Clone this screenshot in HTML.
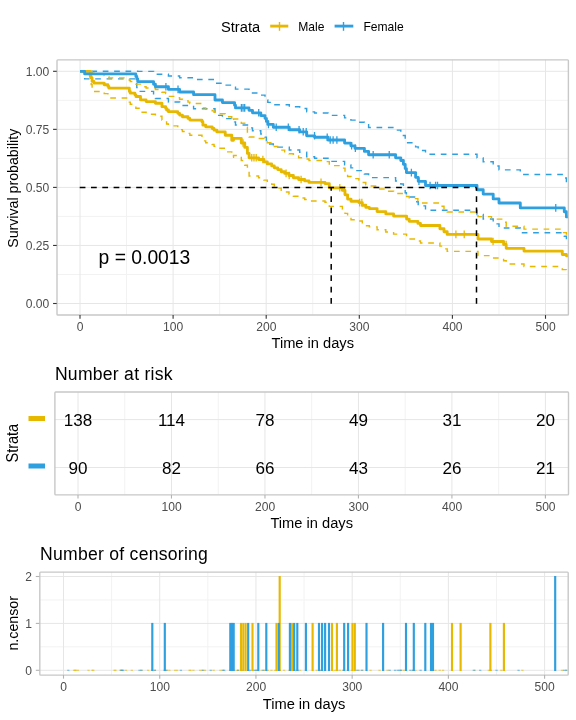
<!DOCTYPE html>
<html><head><meta charset="utf-8"><style>
html,body{margin:0;padding:0;background:#fff;width:576px;height:720px;overflow:hidden}
svg{display:block;font-family:"Liberation Sans", sans-serif;will-change:transform}
</style></head><body>
<svg width="576" height="720" viewBox="0 0 576 720">
<text x="221" y="32" font-size="14.67" fill="#000">Strata</text>
<line x1="270.2" y1="26.1" x2="288.3" y2="26.1" stroke="#E7B800" stroke-width="2.85"/>
<line x1="279.5" y1="22" x2="279.5" y2="30.8" stroke="#E7B800" stroke-width="1.4"/>
<text transform="translate(298.20,30.90) scale(1,1.09)" font-size="12.1" fill="#000">Male</text>
<line x1="334.6" y1="26.1" x2="353.3" y2="26.1" stroke="#2E9FDF" stroke-width="2.85"/>
<line x1="343.5" y1="22" x2="343.5" y2="30.8" stroke="#2E9FDF" stroke-width="1.4"/>
<text transform="translate(363.40,30.90) scale(1,1.09)" font-size="12.1" fill="#000">Female</text>
<rect x="56.72" y="59.69" width="512.05" height="255.42" fill="#fff"/>
<line x1="126.55" y1="59.69" x2="126.55" y2="315.11" stroke="#F2F2F2" stroke-width="1"/>
<line x1="219.65" y1="59.69" x2="219.65" y2="315.11" stroke="#F2F2F2" stroke-width="1"/>
<line x1="312.75" y1="59.69" x2="312.75" y2="315.11" stroke="#F2F2F2" stroke-width="1"/>
<line x1="405.85" y1="59.69" x2="405.85" y2="315.11" stroke="#F2F2F2" stroke-width="1"/>
<line x1="498.95" y1="59.69" x2="498.95" y2="315.11" stroke="#F2F2F2" stroke-width="1"/>
<line x1="56.72" y1="274.48" x2="568.78" y2="274.48" stroke="#F2F2F2" stroke-width="1"/>
<line x1="56.72" y1="216.43" x2="568.78" y2="216.43" stroke="#F2F2F2" stroke-width="1"/>
<line x1="56.72" y1="158.38" x2="568.78" y2="158.38" stroke="#F2F2F2" stroke-width="1"/>
<line x1="56.72" y1="100.33" x2="568.78" y2="100.33" stroke="#F2F2F2" stroke-width="1"/>
<line x1="80.00" y1="59.69" x2="80.00" y2="315.11" stroke="#E6E6E6" stroke-width="1"/>
<line x1="173.10" y1="59.69" x2="173.10" y2="315.11" stroke="#E6E6E6" stroke-width="1"/>
<line x1="266.20" y1="59.69" x2="266.20" y2="315.11" stroke="#E6E6E6" stroke-width="1"/>
<line x1="359.30" y1="59.69" x2="359.30" y2="315.11" stroke="#E6E6E6" stroke-width="1"/>
<line x1="452.40" y1="59.69" x2="452.40" y2="315.11" stroke="#E6E6E6" stroke-width="1"/>
<line x1="545.50" y1="59.69" x2="545.50" y2="315.11" stroke="#E6E6E6" stroke-width="1"/>
<line x1="56.72" y1="303.50" x2="568.78" y2="303.50" stroke="#E6E6E6" stroke-width="1"/>
<line x1="56.72" y1="245.45" x2="568.78" y2="245.45" stroke="#E6E6E6" stroke-width="1"/>
<line x1="56.72" y1="187.40" x2="568.78" y2="187.40" stroke="#E6E6E6" stroke-width="1"/>
<line x1="56.72" y1="129.35" x2="568.78" y2="129.35" stroke="#E6E6E6" stroke-width="1"/>
<line x1="56.72" y1="71.30" x2="568.78" y2="71.30" stroke="#E6E6E6" stroke-width="1"/>
<clipPath id="pc"><rect x="56.72" y="59.69" width="512.05" height="255.42"/></clipPath>
<g clip-path="url(#pc)" fill="none">
<path d="M80.00,71.30H84.66V71.30H135.86V71.30H136.79V71.30H137.72V71.37H153.55V72.78H155.41V74.32H168.44V75.97H179.62V77.72H193.58V79.53H215.00V83.22H222.44V85.16H234.55V87.13H235.48V89.15H249.00V91.00H252.50V92.95H260.80V95.16H265.00V97.33H266.40V99.86H267.80V102.35H273.30V104.70H289.30V106.78H299.70V108.53H306.70V111.87H314.60V113.04H328.00V115.37H344.60V117.91H350.90V120.13H355.00V122.21H364.40V124.78H368.60V127.56H395.60V130.09H400.80V132.31H403.40V135.50H405.20V139.19H406.40V142.70H415.60V146.86H418.20V150.48H425.50V154.31H477.00V157.89H483.20V161.75H493.20V166.07H499.00V169.87H520.30V174.46H564.30V178.04H566.40V183.11H568.90" stroke="#2E9FDF" stroke-width="1.42" stroke-dasharray="5.69 5.69"/>
<path d="M80.00,71.30H84.66V78.86H135.86V83.50H136.79V87.59H137.72V91.40H153.55V95.07H155.41V98.57H168.44V102.01H179.62V105.44H193.58V108.81H215.00V115.41H222.44V118.64H234.55V121.85H235.48V125.00H249.00V127.85H252.50V130.78H260.80V134.03H265.00V137.14H266.40V140.66H267.80V144.03H273.30V147.15H289.30V149.95H299.70V152.30H306.70V156.74H314.60V158.29H328.00V161.41H344.60V164.87H350.90V167.88H355.00V170.64H364.40V174.05H368.60V177.65H395.60V181.08H400.80V184.04H403.40V188.16H405.20V192.75H406.40V196.94H415.60V201.82H418.20V205.91H425.50V210.17H477.00V214.56H483.20V219.07H493.20V223.89H499.00V227.92H520.30V232.68H564.30V236.33H566.40V241.21H568.90" stroke="#2E9FDF" stroke-width="1.42" stroke-dasharray="5.69 5.69"/>
<path d="M80.00,71.30H90.24V71.30H91.17V71.39H92.10V73.33H93.97V74.39H104.21V75.51H107.93V76.65H108.86V77.85H129.34V80.28H130.27V81.52H134.93V82.79H135.86V84.10H140.51V86.74H146.10V88.07H155.41V89.44H161.93V92.17H165.65V93.56H166.58V94.97H168.44V96.37H177.75V97.80H179.62V99.22H182.41V100.66H188.00V102.09H189.86V103.53H201.96V104.98H202.89V107.90H205.69V109.36H212.20V110.84H214.06V112.31H216.86V113.81H225.24V116.78H231.75V121.27H233.50V119.05H241.30V123.28H244.75V127.29H247.40V132.83H249.10V136.97H258.60V138.57H263.90V140.73H267.30V142.72H271.70V144.62H274.30V146.42H277.70V148.14H281.20V150.15H284.70V151.79H289.00V153.81H293.40V155.93H298.60V157.67H304.70V159.02H309.00V160.47H325.00V161.62H329.30V165.63H342.40V168.11H345.00V172.34H347.60V176.54H351.00V178.61H358.90V179.99H362.30V182.55H365.80V184.74H369.30V185.94H377.10V188.93H385.80V191.23H393.60V193.44H406.60V196.44H409.20V198.66H417.90V200.78H420.50V202.92H439.90V206.18H444.00V209.17H447.20V211.95H478.00V216.59H491.50V219.14H503.60V222.22H506.20V226.20H524.00V229.14H562.30V232.66H566.40V234.06H568.90" stroke="#E7B800" stroke-width="1.42" stroke-dasharray="5.69 5.69"/>
<path d="M80.00,71.30H90.24V81.97H91.17V84.49H92.10V89.19H93.97V91.42H104.21V93.65H107.93V95.80H108.86V97.95H129.34V102.16H130.27V104.21H134.93V106.24H135.86V108.28H140.51V112.28H146.10V114.24H155.41V116.22H161.93V120.12H165.65V122.03H166.58V123.96H168.44V125.85H177.75V127.77H179.62V129.65H182.41V131.55H188.00V133.41H189.86V135.27H201.96V137.16H202.89V140.88H205.69V142.71H212.20V144.57H214.06V146.39H216.86V148.23H225.24V151.89H231.75V157.32H233.50V155.54H241.30V160.56H244.75V165.22H247.40V171.49H249.10V176.03H258.60V177.78H263.90V180.14H267.30V182.29H271.70V184.33H274.30V186.27H277.70V188.09H281.20V190.22H284.70V191.93H289.00V194.05H293.40V196.26H298.60V198.06H304.70V199.47H309.00V200.97H325.00V202.18H329.30V206.40H342.40V209.02H345.00V213.41H347.60V217.65H351.00V219.70H358.90V221.07H362.30V223.61H365.80V225.74H369.30V226.89H377.10V229.78H385.80V231.99H393.60V234.09H406.60V236.97H409.20V239.05H417.90V241.04H420.50V243.01H439.90V246.09H444.00V248.85H447.20V251.35H478.00V255.63H491.50V257.93H503.60V260.67H506.20V264.08H524.00V266.57H562.30V269.60H566.40V270.74H568.90" stroke="#E7B800" stroke-width="1.42" stroke-dasharray="5.69 5.69"/>
<path d="M80.00,71.30H90.24V76.34H91.17V78.03H92.10V81.40H93.97V83.07H104.21V84.77H107.93V86.44H108.86V88.13H129.34V91.50H130.27V93.17H134.93V94.85H135.86V96.54H140.51V99.91H146.10V101.58H155.41V103.27H161.93V106.64H165.65V108.31H166.58V110.01H168.44V111.68H177.75V113.37H179.62V115.05H182.41V116.74H188.00V118.41H189.86V120.09H201.96V121.78H202.89V125.15H205.69V126.82H212.20V128.51H214.06V130.19H216.86V131.88H225.24V135.25H231.75V140.29H233.50V138.30H241.30V143.00H244.75V147.40H247.40V153.40H249.10V157.80H258.60V159.50H263.90V161.80H267.30V163.90H271.70V165.90H274.30V167.80H277.70V169.60H281.20V171.70H284.70V173.40H289.00V175.50H293.40V177.70H298.60V179.50H304.70V180.90H309.00V182.40H325.00V183.60H329.30V187.80H342.40V190.40H345.00V194.80H347.60V199.10H351.00V201.20H358.90V202.60H362.30V205.20H365.80V207.40H369.30V208.60H377.10V211.60H385.80V213.90H393.60V216.10H406.60V219.10H409.20V221.30H417.90V223.40H420.50V225.50H439.90V228.75H444.00V231.70H447.20V234.40H478.00V239.00H491.50V241.50H503.60V244.50H506.20V248.30H524.00V251.10H562.30V254.50H566.40V255.80H568.90" stroke="#E7B800" stroke-width="2.85" stroke-linejoin="round"/>
<path d="M80.00,71.30H84.66V73.88H135.86V76.45H136.79V79.03H137.72V81.61H153.55V84.21H155.41V86.79H168.44V89.39H179.62V92.04H193.58V94.68H215.00V99.95H222.44V102.60H234.55V105.25H235.48V107.89H249.00V110.30H252.50V112.80H260.80V115.60H265.00V118.30H266.40V121.40H267.80V124.40H273.30V127.20H289.30V129.70H299.70V131.80H306.70V135.80H314.60V137.20H328.00V140.00H344.60V143.10H350.90V145.80H355.00V148.30H364.40V151.40H368.60V154.70H395.60V157.80H400.80V160.50H403.40V164.30H405.20V168.60H406.40V172.60H415.60V177.30H418.20V181.30H425.50V185.50H477.00V189.70H483.20V194.10H493.20V198.90H499.00V203.00H520.30V207.90H564.30V211.70H566.40V216.90H568.90" stroke="#2E9FDF" stroke-width="2.85" stroke-linejoin="round"/>
<line x1="243.04" y1="139.20" x2="243.04" y2="146.80" stroke="#E7B800" stroke-width="1.3"/><line x1="251.74" y1="154.00" x2="251.74" y2="161.60" stroke="#E7B800" stroke-width="1.3"/><line x1="253.97" y1="154.00" x2="253.97" y2="161.60" stroke="#E7B800" stroke-width="1.3"/><line x1="256.20" y1="154.00" x2="256.20" y2="161.60" stroke="#E7B800" stroke-width="1.3"/><line x1="262.87" y1="155.70" x2="262.87" y2="163.30" stroke="#E7B800" stroke-width="1.3"/><line x1="286.09" y1="169.60" x2="286.09" y2="177.20" stroke="#E7B800" stroke-width="1.3"/><line x1="289.19" y1="171.70" x2="289.19" y2="179.30" stroke="#E7B800" stroke-width="1.3"/><line x1="301.09" y1="175.70" x2="301.09" y2="183.30" stroke="#E7B800" stroke-width="1.3"/><line x1="321.02" y1="178.60" x2="321.02" y2="186.20" stroke="#E7B800" stroke-width="1.3"/><line x1="339.79" y1="184.00" x2="339.79" y2="191.60" stroke="#E7B800" stroke-width="1.3"/><line x1="344.53" y1="186.60" x2="344.53" y2="194.20" stroke="#E7B800" stroke-width="1.3"/><line x1="359.63" y1="198.80" x2="359.63" y2="206.40" stroke="#E7B800" stroke-width="1.3"/><line x1="361.85" y1="198.80" x2="361.85" y2="206.40" stroke="#E7B800" stroke-width="1.3"/><line x1="455.90" y1="230.60" x2="455.90" y2="238.20" stroke="#E7B800" stroke-width="1.3"/><line x1="464.22" y1="230.60" x2="464.22" y2="238.20" stroke="#E7B800" stroke-width="1.3"/><line x1="493.06" y1="237.70" x2="493.06" y2="245.30" stroke="#E7B800" stroke-width="1.3"/><line x1="506.12" y1="240.70" x2="506.12" y2="248.30" stroke="#E7B800" stroke-width="1.3"/>
<line x1="165.92" y1="82.99" x2="165.92" y2="90.59" stroke="#2E9FDF" stroke-width="1.3"/><line x1="178.02" y1="85.59" x2="178.02" y2="93.19" stroke="#2E9FDF" stroke-width="1.3"/><line x1="241.39" y1="104.09" x2="241.39" y2="111.69" stroke="#2E9FDF" stroke-width="1.3"/><line x1="243.04" y1="104.09" x2="243.04" y2="111.69" stroke="#2E9FDF" stroke-width="1.3"/><line x1="244.68" y1="104.09" x2="244.68" y2="111.69" stroke="#2E9FDF" stroke-width="1.3"/><line x1="258.71" y1="109.00" x2="258.71" y2="116.60" stroke="#2E9FDF" stroke-width="1.3"/><line x1="268.48" y1="120.60" x2="268.48" y2="128.20" stroke="#2E9FDF" stroke-width="1.3"/><line x1="276.22" y1="123.40" x2="276.22" y2="131.00" stroke="#2E9FDF" stroke-width="1.3"/><line x1="288.32" y1="123.40" x2="288.32" y2="131.00" stroke="#2E9FDF" stroke-width="1.3"/><line x1="299.06" y1="125.90" x2="299.06" y2="133.50" stroke="#2E9FDF" stroke-width="1.3"/><line x1="303.22" y1="128.00" x2="303.22" y2="135.60" stroke="#2E9FDF" stroke-width="1.3"/><line x1="306.22" y1="128.00" x2="306.22" y2="135.60" stroke="#2E9FDF" stroke-width="1.3"/><line x1="314.54" y1="132.00" x2="314.54" y2="139.60" stroke="#2E9FDF" stroke-width="1.3"/><line x1="327.22" y1="133.40" x2="327.22" y2="141.00" stroke="#2E9FDF" stroke-width="1.3"/><line x1="330.21" y1="136.20" x2="330.21" y2="143.80" stroke="#2E9FDF" stroke-width="1.3"/><line x1="333.12" y1="136.20" x2="333.12" y2="143.80" stroke="#2E9FDF" stroke-width="1.3"/><line x1="336.89" y1="136.20" x2="336.89" y2="143.80" stroke="#2E9FDF" stroke-width="1.3"/><line x1="351.60" y1="142.00" x2="351.60" y2="149.60" stroke="#2E9FDF" stroke-width="1.3"/><line x1="355.37" y1="144.50" x2="355.37" y2="152.10" stroke="#2E9FDF" stroke-width="1.3"/><line x1="373.18" y1="150.90" x2="373.18" y2="158.50" stroke="#2E9FDF" stroke-width="1.3"/><line x1="389.24" y1="150.90" x2="389.24" y2="158.50" stroke="#2E9FDF" stroke-width="1.3"/><line x1="411.39" y1="168.80" x2="411.39" y2="176.40" stroke="#2E9FDF" stroke-width="1.3"/><line x1="418.94" y1="177.50" x2="418.94" y2="185.10" stroke="#2E9FDF" stroke-width="1.3"/><line x1="430.07" y1="181.70" x2="430.07" y2="189.30" stroke="#2E9FDF" stroke-width="1.3"/><line x1="435.58" y1="181.70" x2="435.58" y2="189.30" stroke="#2E9FDF" stroke-width="1.3"/><line x1="437.52" y1="181.70" x2="437.52" y2="189.30" stroke="#2E9FDF" stroke-width="1.3"/><line x1="555.76" y1="204.10" x2="555.76" y2="211.70" stroke="#2E9FDF" stroke-width="1.3"/>
<path d="M79.7,187.5H476.5" stroke="#000" stroke-width="1.5" stroke-dasharray="5.75 5.55"/>
<path d="M331.2,303.7V187.5" stroke="#000" stroke-width="1.5" stroke-dasharray="5.75 5.55"/>
<path d="M476.5,303.7V187.5" stroke="#000" stroke-width="1.5" stroke-dasharray="5.75 5.55"/>
</g>
<rect x="57.00" y="59.90" width="511.40" height="255.10" fill="none" stroke="#C8C8C8" stroke-width="1.4" rx="0.8"/>
<text transform="translate(98.60,263.90)" font-size="19.3" fill="#000">p = 0.0013</text>
<line x1="53.07" y1="303.50" x2="56.72" y2="303.50" stroke="#333" stroke-width="1.1"/>
<text transform="translate(49.32,308.10) scale(1,1.09)" font-size="12.1" fill="#4D4D4D" text-anchor="end">0.00</text>
<line x1="53.07" y1="245.45" x2="56.72" y2="245.45" stroke="#333" stroke-width="1.1"/>
<text transform="translate(49.32,250.05) scale(1,1.09)" font-size="12.1" fill="#4D4D4D" text-anchor="end">0.25</text>
<line x1="53.07" y1="187.40" x2="56.72" y2="187.40" stroke="#333" stroke-width="1.1"/>
<text transform="translate(49.32,192.00) scale(1,1.09)" font-size="12.1" fill="#4D4D4D" text-anchor="end">0.50</text>
<line x1="53.07" y1="129.35" x2="56.72" y2="129.35" stroke="#333" stroke-width="1.1"/>
<text transform="translate(49.32,133.95) scale(1,1.09)" font-size="12.1" fill="#4D4D4D" text-anchor="end">0.75</text>
<line x1="53.07" y1="71.30" x2="56.72" y2="71.30" stroke="#333" stroke-width="1.1"/>
<text transform="translate(49.32,75.90) scale(1,1.09)" font-size="12.1" fill="#4D4D4D" text-anchor="end">1.00</text>
<line x1="80.00" y1="315.11" x2="80.00" y2="318.76" stroke="#333" stroke-width="1.1"/>
<text transform="translate(80.10,330.81) scale(1,1.09)" font-size="12.1" fill="#4D4D4D" text-anchor="middle">0</text>
<line x1="173.10" y1="315.11" x2="173.10" y2="318.76" stroke="#333" stroke-width="1.1"/>
<text transform="translate(173.20,330.81) scale(1,1.09)" font-size="12.1" fill="#4D4D4D" text-anchor="middle">100</text>
<line x1="266.20" y1="315.11" x2="266.20" y2="318.76" stroke="#333" stroke-width="1.1"/>
<text transform="translate(266.30,330.81) scale(1,1.09)" font-size="12.1" fill="#4D4D4D" text-anchor="middle">200</text>
<line x1="359.30" y1="315.11" x2="359.30" y2="318.76" stroke="#333" stroke-width="1.1"/>
<text transform="translate(359.40,330.81) scale(1,1.09)" font-size="12.1" fill="#4D4D4D" text-anchor="middle">300</text>
<line x1="452.40" y1="315.11" x2="452.40" y2="318.76" stroke="#333" stroke-width="1.1"/>
<text transform="translate(452.50,330.81) scale(1,1.09)" font-size="12.1" fill="#4D4D4D" text-anchor="middle">400</text>
<line x1="545.50" y1="315.11" x2="545.50" y2="318.76" stroke="#333" stroke-width="1.1"/>
<text transform="translate(545.60,330.81) scale(1,1.09)" font-size="12.1" fill="#4D4D4D" text-anchor="middle">500</text>
<text x="312.75" y="347.8" font-size="14.67" fill="#000" text-anchor="middle">Time in days</text>
<text transform="translate(18.4,188.30) rotate(-90) scale(1,1.08)" font-size="14.2" fill="#000" text-anchor="middle">Survival probability</text>
<text x="54.9" y="380" font-size="17.6" letter-spacing="0.25" fill="#000">Number at risk</text>
<line x1="124.74" y1="392.00" x2="124.74" y2="494.90" stroke="#F2F2F2" stroke-width="1"/>
<line x1="218.22" y1="392.00" x2="218.22" y2="494.90" stroke="#F2F2F2" stroke-width="1"/>
<line x1="311.70" y1="392.00" x2="311.70" y2="494.90" stroke="#F2F2F2" stroke-width="1"/>
<line x1="405.18" y1="392.00" x2="405.18" y2="494.90" stroke="#F2F2F2" stroke-width="1"/>
<line x1="498.66" y1="392.00" x2="498.66" y2="494.90" stroke="#F2F2F2" stroke-width="1"/>
<line x1="78.00" y1="392.00" x2="78.00" y2="494.90" stroke="#E6E6E6" stroke-width="1"/>
<line x1="171.48" y1="392.00" x2="171.48" y2="494.90" stroke="#E6E6E6" stroke-width="1"/>
<line x1="264.96" y1="392.00" x2="264.96" y2="494.90" stroke="#E6E6E6" stroke-width="1"/>
<line x1="358.44" y1="392.00" x2="358.44" y2="494.90" stroke="#E6E6E6" stroke-width="1"/>
<line x1="451.92" y1="392.00" x2="451.92" y2="494.90" stroke="#E6E6E6" stroke-width="1"/>
<line x1="545.40" y1="392.00" x2="545.40" y2="494.90" stroke="#E6E6E6" stroke-width="1"/>
<line x1="54.63" y1="419.6" x2="568.77" y2="419.6" stroke="#E6E6E6" stroke-width="1"/>
<line x1="54.63" y1="467.5" x2="568.77" y2="467.5" stroke="#E6E6E6" stroke-width="1"/>
<rect x="54.90" y="392.00" width="513.60" height="102.90" fill="none" stroke="#C8C8C8" stroke-width="1.4" rx="0.8"/>
<text x="78.00" y="425.8" font-size="17.07" fill="#000" text-anchor="middle">138</text>
<text x="171.48" y="425.8" font-size="17.07" fill="#000" text-anchor="middle">114</text>
<text x="264.96" y="425.8" font-size="17.07" fill="#000" text-anchor="middle">78</text>
<text x="358.44" y="425.8" font-size="17.07" fill="#000" text-anchor="middle">49</text>
<text x="451.92" y="425.8" font-size="17.07" fill="#000" text-anchor="middle">31</text>
<text x="545.40" y="425.8" font-size="17.07" fill="#000" text-anchor="middle">20</text>
<text x="78.00" y="474.0" font-size="17.07" fill="#000" text-anchor="middle">90</text>
<text x="171.48" y="474.0" font-size="17.07" fill="#000" text-anchor="middle">82</text>
<text x="264.96" y="474.0" font-size="17.07" fill="#000" text-anchor="middle">66</text>
<text x="358.44" y="474.0" font-size="17.07" fill="#000" text-anchor="middle">43</text>
<text x="451.92" y="474.0" font-size="17.07" fill="#000" text-anchor="middle">26</text>
<text x="545.40" y="474.0" font-size="17.07" fill="#000" text-anchor="middle">21</text>
<rect x="28.5" y="416" width="16.5" height="5" fill="#E7B800"/>
<rect x="28.5" y="463.5" width="16.5" height="5" fill="#2E9FDF"/>
<line x1="78.00" y1="494.90" x2="78.00" y2="498.55" stroke="#B3B3B3" stroke-width="1.1"/>
<text transform="translate(78.10,511.00) scale(1,1.09)" font-size="12.1" fill="#4D4D4D" text-anchor="middle">0</text>
<line x1="171.48" y1="494.90" x2="171.48" y2="498.55" stroke="#B3B3B3" stroke-width="1.1"/>
<text transform="translate(171.58,511.00) scale(1,1.09)" font-size="12.1" fill="#4D4D4D" text-anchor="middle">100</text>
<line x1="264.96" y1="494.90" x2="264.96" y2="498.55" stroke="#B3B3B3" stroke-width="1.1"/>
<text transform="translate(265.06,511.00) scale(1,1.09)" font-size="12.1" fill="#4D4D4D" text-anchor="middle">200</text>
<line x1="358.44" y1="494.90" x2="358.44" y2="498.55" stroke="#B3B3B3" stroke-width="1.1"/>
<text transform="translate(358.54,511.00) scale(1,1.09)" font-size="12.1" fill="#4D4D4D" text-anchor="middle">300</text>
<line x1="451.92" y1="494.90" x2="451.92" y2="498.55" stroke="#B3B3B3" stroke-width="1.1"/>
<text transform="translate(452.02,511.00) scale(1,1.09)" font-size="12.1" fill="#4D4D4D" text-anchor="middle">400</text>
<line x1="545.40" y1="494.90" x2="545.40" y2="498.55" stroke="#B3B3B3" stroke-width="1.1"/>
<text transform="translate(545.50,511.00) scale(1,1.09)" font-size="12.1" fill="#4D4D4D" text-anchor="middle">500</text>
<text x="311.70" y="528.3" font-size="14.67" fill="#000" text-anchor="middle">Time in days</text>
<text transform="translate(18.3,443.2) rotate(-90) scale(1,1.1)" font-size="14.5" fill="#000" text-anchor="middle">Strata</text>
<text x="40.1" y="560.25" font-size="17.6" letter-spacing="0.25" fill="#000">Number of censoring</text>
<line x1="111.61" y1="571.81" x2="111.61" y2="674.99" stroke="#F2F2F2" stroke-width="1"/>
<line x1="207.83" y1="571.81" x2="207.83" y2="674.99" stroke="#F2F2F2" stroke-width="1"/>
<line x1="304.05" y1="571.81" x2="304.05" y2="674.99" stroke="#F2F2F2" stroke-width="1"/>
<line x1="400.27" y1="571.81" x2="400.27" y2="674.99" stroke="#F2F2F2" stroke-width="1"/>
<line x1="496.49" y1="571.81" x2="496.49" y2="674.99" stroke="#F2F2F2" stroke-width="1"/>
<line x1="39.45" y1="646.85" x2="568.65" y2="646.85" stroke="#F2F2F2" stroke-width="1"/>
<line x1="39.45" y1="599.95" x2="568.65" y2="599.95" stroke="#F2F2F2" stroke-width="1"/>
<line x1="63.50" y1="571.81" x2="63.50" y2="674.99" stroke="#E6E6E6" stroke-width="1"/>
<line x1="159.72" y1="571.81" x2="159.72" y2="674.99" stroke="#E6E6E6" stroke-width="1"/>
<line x1="255.94" y1="571.81" x2="255.94" y2="674.99" stroke="#E6E6E6" stroke-width="1"/>
<line x1="352.16" y1="571.81" x2="352.16" y2="674.99" stroke="#E6E6E6" stroke-width="1"/>
<line x1="448.38" y1="571.81" x2="448.38" y2="674.99" stroke="#E6E6E6" stroke-width="1"/>
<line x1="544.60" y1="571.81" x2="544.60" y2="674.99" stroke="#E6E6E6" stroke-width="1"/>
<line x1="39.45" y1="670.30" x2="568.65" y2="670.30" stroke="#E6E6E6" stroke-width="1"/>
<line x1="39.45" y1="623.40" x2="568.65" y2="623.40" stroke="#E6E6E6" stroke-width="1"/>
<line x1="39.45" y1="576.50" x2="568.65" y2="576.50" stroke="#E6E6E6" stroke-width="1"/>
<rect x="72.93" y="669.70" width="2.3" height="1.2" fill="#E7B800" opacity="0.6"/>
<rect x="73.90" y="669.70" width="2.3" height="1.2" fill="#E7B800" opacity="0.6"/>
<rect x="74.86" y="669.70" width="2.3" height="1.2" fill="#E7B800" opacity="0.6"/>
<rect x="76.78" y="669.70" width="2.3" height="1.2" fill="#E7B800" opacity="0.6"/>
<rect x="87.37" y="669.70" width="2.3" height="1.2" fill="#E7B800" opacity="0.6"/>
<rect x="91.22" y="669.70" width="2.3" height="1.2" fill="#E7B800" opacity="0.6"/>
<rect x="92.18" y="669.70" width="2.3" height="1.2" fill="#E7B800" opacity="0.6"/>
<rect x="113.35" y="669.70" width="2.3" height="1.2" fill="#E7B800" opacity="0.6"/>
<rect x="114.31" y="669.70" width="2.3" height="1.2" fill="#E7B800" opacity="0.6"/>
<rect x="119.12" y="669.70" width="2.3" height="1.2" fill="#E7B800" opacity="0.6"/>
<rect x="120.08" y="669.70" width="2.3" height="1.2" fill="#E7B800" opacity="0.6"/>
<rect x="124.89" y="669.70" width="2.3" height="1.2" fill="#E7B800" opacity="0.6"/>
<rect x="130.67" y="669.70" width="2.3" height="1.2" fill="#E7B800" opacity="0.6"/>
<rect x="140.29" y="669.70" width="2.3" height="1.2" fill="#E7B800" opacity="0.6"/>
<rect x="147.02" y="669.70" width="2.3" height="1.2" fill="#E7B800" opacity="0.6"/>
<rect x="150.87" y="669.70" width="2.3" height="1.2" fill="#E7B800" opacity="0.6"/>
<rect x="151.83" y="669.70" width="2.3" height="1.2" fill="#E7B800" opacity="0.6"/>
<rect x="153.76" y="669.70" width="2.3" height="1.2" fill="#E7B800" opacity="0.6"/>
<rect x="163.38" y="669.70" width="2.3" height="1.2" fill="#E7B800" opacity="0.6"/>
<rect x="165.31" y="669.70" width="2.3" height="1.2" fill="#E7B800" opacity="0.6"/>
<rect x="168.19" y="669.70" width="2.3" height="1.2" fill="#E7B800" opacity="0.6"/>
<rect x="173.97" y="669.70" width="2.3" height="1.2" fill="#E7B800" opacity="0.6"/>
<rect x="175.89" y="669.70" width="2.3" height="1.2" fill="#E7B800" opacity="0.6"/>
<rect x="188.40" y="669.70" width="2.3" height="1.2" fill="#E7B800" opacity="0.6"/>
<rect x="189.36" y="669.70" width="2.3" height="1.2" fill="#E7B800" opacity="0.6"/>
<rect x="192.25" y="669.70" width="2.3" height="1.2" fill="#E7B800" opacity="0.6"/>
<rect x="198.98" y="669.70" width="2.3" height="1.2" fill="#E7B800" opacity="0.6"/>
<rect x="200.91" y="669.70" width="2.3" height="1.2" fill="#E7B800" opacity="0.6"/>
<rect x="203.79" y="669.70" width="2.3" height="1.2" fill="#E7B800" opacity="0.6"/>
<rect x="212.45" y="669.70" width="2.3" height="1.2" fill="#E7B800" opacity="0.6"/>
<rect x="219.19" y="669.70" width="2.3" height="1.2" fill="#E7B800" opacity="0.6"/>
<rect x="220.99" y="669.70" width="2.3" height="1.2" fill="#E7B800" opacity="0.6"/>
<rect x="229.06" y="669.70" width="2.3" height="1.2" fill="#E7B800" opacity="0.6"/>
<rect x="232.62" y="669.70" width="2.3" height="1.2" fill="#E7B800" opacity="0.6"/>
<rect x="235.36" y="669.70" width="2.3" height="1.2" fill="#E7B800" opacity="0.6"/>
<rect x="237.12" y="669.70" width="2.3" height="1.2" fill="#E7B800" opacity="0.6"/>
<rect x="246.94" y="669.70" width="2.3" height="1.2" fill="#E7B800" opacity="0.6"/>
<rect x="252.41" y="669.70" width="2.3" height="1.2" fill="#E7B800" opacity="0.6"/>
<rect x="255.93" y="669.70" width="2.3" height="1.2" fill="#E7B800" opacity="0.6"/>
<rect x="260.47" y="669.70" width="2.3" height="1.2" fill="#E7B800" opacity="0.6"/>
<rect x="263.16" y="669.70" width="2.3" height="1.2" fill="#E7B800" opacity="0.6"/>
<rect x="266.68" y="669.70" width="2.3" height="1.2" fill="#E7B800" opacity="0.6"/>
<rect x="270.29" y="669.70" width="2.3" height="1.2" fill="#E7B800" opacity="0.6"/>
<rect x="273.91" y="669.70" width="2.3" height="1.2" fill="#E7B800" opacity="0.6"/>
<rect x="278.35" y="669.70" width="2.3" height="1.2" fill="#E7B800" opacity="0.6"/>
<rect x="282.90" y="669.70" width="2.3" height="1.2" fill="#E7B800" opacity="0.6"/>
<rect x="288.28" y="669.70" width="2.3" height="1.2" fill="#E7B800" opacity="0.6"/>
<rect x="294.58" y="669.70" width="2.3" height="1.2" fill="#E7B800" opacity="0.6"/>
<rect x="299.02" y="669.70" width="2.3" height="1.2" fill="#E7B800" opacity="0.6"/>
<rect x="315.56" y="669.70" width="2.3" height="1.2" fill="#E7B800" opacity="0.6"/>
<rect x="320.00" y="669.70" width="2.3" height="1.2" fill="#E7B800" opacity="0.6"/>
<rect x="333.54" y="669.70" width="2.3" height="1.2" fill="#E7B800" opacity="0.6"/>
<rect x="336.23" y="669.70" width="2.3" height="1.2" fill="#E7B800" opacity="0.6"/>
<rect x="338.92" y="669.70" width="2.3" height="1.2" fill="#E7B800" opacity="0.6"/>
<rect x="342.43" y="669.70" width="2.3" height="1.2" fill="#E7B800" opacity="0.6"/>
<rect x="350.60" y="669.70" width="2.3" height="1.2" fill="#E7B800" opacity="0.6"/>
<rect x="354.11" y="669.70" width="2.3" height="1.2" fill="#E7B800" opacity="0.6"/>
<rect x="357.73" y="669.70" width="2.3" height="1.2" fill="#E7B800" opacity="0.6"/>
<rect x="361.35" y="669.70" width="2.3" height="1.2" fill="#E7B800" opacity="0.6"/>
<rect x="369.41" y="669.70" width="2.3" height="1.2" fill="#E7B800" opacity="0.6"/>
<rect x="378.40" y="669.70" width="2.3" height="1.2" fill="#E7B800" opacity="0.6"/>
<rect x="386.46" y="669.70" width="2.3" height="1.2" fill="#E7B800" opacity="0.6"/>
<rect x="399.90" y="669.70" width="2.3" height="1.2" fill="#E7B800" opacity="0.6"/>
<rect x="402.58" y="669.70" width="2.3" height="1.2" fill="#E7B800" opacity="0.6"/>
<rect x="411.57" y="669.70" width="2.3" height="1.2" fill="#E7B800" opacity="0.6"/>
<rect x="414.26" y="669.70" width="2.3" height="1.2" fill="#E7B800" opacity="0.6"/>
<rect x="434.31" y="669.70" width="2.3" height="1.2" fill="#E7B800" opacity="0.6"/>
<rect x="438.55" y="669.70" width="2.3" height="1.2" fill="#E7B800" opacity="0.6"/>
<rect x="441.86" y="669.70" width="2.3" height="1.2" fill="#E7B800" opacity="0.6"/>
<rect x="473.69" y="669.70" width="2.3" height="1.2" fill="#E7B800" opacity="0.6"/>
<rect x="487.64" y="669.70" width="2.3" height="1.2" fill="#E7B800" opacity="0.6"/>
<rect x="500.15" y="669.70" width="2.3" height="1.2" fill="#E7B800" opacity="0.6"/>
<rect x="502.83" y="669.70" width="2.3" height="1.2" fill="#E7B800" opacity="0.6"/>
<rect x="521.23" y="669.70" width="2.3" height="1.2" fill="#E7B800" opacity="0.6"/>
<rect x="560.81" y="669.70" width="2.3" height="1.2" fill="#E7B800" opacity="0.6"/>
<rect x="565.05" y="669.70" width="2.3" height="1.2" fill="#E7B800" opacity="0.6"/>
<rect x="67.16" y="669.70" width="2.3" height="1.2" fill="#2E9FDF" opacity="0.6"/>
<rect x="120.08" y="669.70" width="2.3" height="1.2" fill="#2E9FDF" opacity="0.6"/>
<rect x="121.04" y="669.70" width="2.3" height="1.2" fill="#2E9FDF" opacity="0.6"/>
<rect x="122.01" y="669.70" width="2.3" height="1.2" fill="#2E9FDF" opacity="0.6"/>
<rect x="138.36" y="669.70" width="2.3" height="1.2" fill="#2E9FDF" opacity="0.6"/>
<rect x="140.29" y="669.70" width="2.3" height="1.2" fill="#2E9FDF" opacity="0.6"/>
<rect x="153.76" y="669.70" width="2.3" height="1.2" fill="#2E9FDF" opacity="0.6"/>
<rect x="165.31" y="669.70" width="2.3" height="1.2" fill="#2E9FDF" opacity="0.6"/>
<rect x="179.74" y="669.70" width="2.3" height="1.2" fill="#2E9FDF" opacity="0.6"/>
<rect x="201.87" y="669.70" width="2.3" height="1.2" fill="#2E9FDF" opacity="0.6"/>
<rect x="209.57" y="669.70" width="2.3" height="1.2" fill="#2E9FDF" opacity="0.6"/>
<rect x="222.08" y="669.70" width="2.3" height="1.2" fill="#2E9FDF" opacity="0.6"/>
<rect x="223.04" y="669.70" width="2.3" height="1.2" fill="#2E9FDF" opacity="0.6"/>
<rect x="237.01" y="669.70" width="2.3" height="1.2" fill="#2E9FDF" opacity="0.6"/>
<rect x="240.63" y="669.70" width="2.3" height="1.2" fill="#2E9FDF" opacity="0.6"/>
<rect x="249.21" y="669.70" width="2.3" height="1.2" fill="#2E9FDF" opacity="0.6"/>
<rect x="253.55" y="669.70" width="2.3" height="1.2" fill="#2E9FDF" opacity="0.6"/>
<rect x="255.00" y="669.70" width="2.3" height="1.2" fill="#2E9FDF" opacity="0.6"/>
<rect x="256.44" y="669.70" width="2.3" height="1.2" fill="#2E9FDF" opacity="0.6"/>
<rect x="262.13" y="669.70" width="2.3" height="1.2" fill="#2E9FDF" opacity="0.6"/>
<rect x="278.66" y="669.70" width="2.3" height="1.2" fill="#2E9FDF" opacity="0.6"/>
<rect x="289.41" y="669.70" width="2.3" height="1.2" fill="#2E9FDF" opacity="0.6"/>
<rect x="296.65" y="669.70" width="2.3" height="1.2" fill="#2E9FDF" opacity="0.6"/>
<rect x="304.81" y="669.70" width="2.3" height="1.2" fill="#2E9FDF" opacity="0.6"/>
<rect x="318.66" y="669.70" width="2.3" height="1.2" fill="#2E9FDF" opacity="0.6"/>
<rect x="335.82" y="669.70" width="2.3" height="1.2" fill="#2E9FDF" opacity="0.6"/>
<rect x="342.33" y="669.70" width="2.3" height="1.2" fill="#2E9FDF" opacity="0.6"/>
<rect x="346.57" y="669.70" width="2.3" height="1.2" fill="#2E9FDF" opacity="0.6"/>
<rect x="356.28" y="669.70" width="2.3" height="1.2" fill="#2E9FDF" opacity="0.6"/>
<rect x="360.62" y="669.70" width="2.3" height="1.2" fill="#2E9FDF" opacity="0.6"/>
<rect x="388.53" y="669.70" width="2.3" height="1.2" fill="#2E9FDF" opacity="0.6"/>
<rect x="393.90" y="669.70" width="2.3" height="1.2" fill="#2E9FDF" opacity="0.6"/>
<rect x="396.59" y="669.70" width="2.3" height="1.2" fill="#2E9FDF" opacity="0.6"/>
<rect x="398.45" y="669.70" width="2.3" height="1.2" fill="#2E9FDF" opacity="0.6"/>
<rect x="399.69" y="669.70" width="2.3" height="1.2" fill="#2E9FDF" opacity="0.6"/>
<rect x="409.20" y="669.70" width="2.3" height="1.2" fill="#2E9FDF" opacity="0.6"/>
<rect x="411.88" y="669.70" width="2.3" height="1.2" fill="#2E9FDF" opacity="0.6"/>
<rect x="419.43" y="669.70" width="2.3" height="1.2" fill="#2E9FDF" opacity="0.6"/>
<rect x="472.65" y="669.70" width="2.3" height="1.2" fill="#2E9FDF" opacity="0.6"/>
<rect x="479.06" y="669.70" width="2.3" height="1.2" fill="#2E9FDF" opacity="0.6"/>
<rect x="489.40" y="669.70" width="2.3" height="1.2" fill="#2E9FDF" opacity="0.6"/>
<rect x="495.39" y="669.70" width="2.3" height="1.2" fill="#2E9FDF" opacity="0.6"/>
<rect x="517.41" y="669.70" width="2.3" height="1.2" fill="#2E9FDF" opacity="0.6"/>
<rect x="562.88" y="669.70" width="2.3" height="1.2" fill="#2E9FDF" opacity="0.6"/>
<rect x="565.05" y="669.70" width="2.3" height="1.2" fill="#2E9FDF" opacity="0.6"/>
<rect x="231.60" y="622.90" width="0.8" height="48.10" fill="#E7B800"/>
<rect x="239.93" y="622.90" width="2.15" height="48.10" fill="#E7B800"/>
<rect x="242.23" y="622.90" width="2.15" height="48.10" fill="#E7B800"/>
<rect x="244.53" y="622.90" width="2.15" height="48.10" fill="#E7B800"/>
<rect x="251.43" y="622.90" width="2.15" height="48.10" fill="#E7B800"/>
<rect x="275.43" y="622.90" width="2.15" height="48.10" fill="#E7B800"/>
<rect x="278.62" y="576.00" width="2.15" height="95.00" fill="#E7B800"/>
<rect x="290.93" y="622.90" width="2.15" height="48.10" fill="#E7B800"/>
<rect x="311.53" y="622.90" width="2.15" height="48.10" fill="#E7B800"/>
<rect x="330.93" y="622.90" width="2.15" height="48.10" fill="#E7B800"/>
<rect x="335.82" y="622.90" width="2.15" height="48.10" fill="#E7B800"/>
<rect x="351.43" y="622.90" width="2.15" height="48.10" fill="#E7B800"/>
<rect x="353.73" y="622.90" width="2.15" height="48.10" fill="#E7B800"/>
<rect x="450.93" y="622.90" width="2.15" height="48.10" fill="#E7B800"/>
<rect x="459.53" y="622.90" width="2.15" height="48.10" fill="#E7B800"/>
<rect x="489.32" y="622.90" width="2.15" height="48.10" fill="#E7B800"/>
<rect x="502.82" y="622.90" width="2.15" height="48.10" fill="#E7B800"/>
<rect x="151.23" y="622.90" width="2.15" height="48.10" fill="#2E9FDF"/>
<rect x="163.73" y="622.90" width="2.15" height="48.10" fill="#2E9FDF"/>
<rect x="229.23" y="622.90" width="2.15" height="48.10" fill="#2E9FDF"/>
<rect x="230.93" y="622.90" width="2.15" height="48.10" fill="#2E9FDF"/>
<rect x="232.62" y="622.90" width="2.15" height="48.10" fill="#2E9FDF"/>
<rect x="247.12" y="622.90" width="2.15" height="48.10" fill="#2E9FDF"/>
<rect x="257.23" y="622.90" width="2.15" height="48.10" fill="#2E9FDF"/>
<rect x="265.23" y="622.90" width="2.15" height="48.10" fill="#2E9FDF"/>
<rect x="277.73" y="622.90" width="2.15" height="48.10" fill="#2E9FDF"/>
<rect x="288.82" y="622.90" width="2.15" height="48.10" fill="#2E9FDF"/>
<rect x="293.12" y="622.90" width="2.15" height="48.10" fill="#2E9FDF"/>
<rect x="296.23" y="622.90" width="2.15" height="48.10" fill="#2E9FDF"/>
<rect x="304.82" y="622.90" width="2.15" height="48.10" fill="#2E9FDF"/>
<rect x="317.93" y="622.90" width="2.15" height="48.10" fill="#2E9FDF"/>
<rect x="321.03" y="622.90" width="2.15" height="48.10" fill="#2E9FDF"/>
<rect x="324.03" y="622.90" width="2.15" height="48.10" fill="#2E9FDF"/>
<rect x="327.93" y="622.90" width="2.15" height="48.10" fill="#2E9FDF"/>
<rect x="343.12" y="622.90" width="2.15" height="48.10" fill="#2E9FDF"/>
<rect x="347.03" y="622.90" width="2.15" height="48.10" fill="#2E9FDF"/>
<rect x="365.43" y="622.90" width="2.15" height="48.10" fill="#2E9FDF"/>
<rect x="382.03" y="622.90" width="2.15" height="48.10" fill="#2E9FDF"/>
<rect x="404.93" y="622.90" width="2.15" height="48.10" fill="#2E9FDF"/>
<rect x="412.73" y="622.90" width="2.15" height="48.10" fill="#2E9FDF"/>
<rect x="424.23" y="622.90" width="2.15" height="48.10" fill="#2E9FDF"/>
<rect x="429.93" y="622.90" width="2.15" height="48.10" fill="#2E9FDF"/>
<rect x="431.93" y="622.90" width="2.15" height="48.10" fill="#2E9FDF"/>
<rect x="554.12" y="576.00" width="2.15" height="95.00" fill="#2E9FDF"/>
<rect x="39.80" y="572.10" width="528.40" height="103.00" fill="none" stroke="#C8C8C8" stroke-width="1.4" rx="0.8"/>
<line x1="35.80" y1="670.30" x2="39.45" y2="670.30" stroke="#B3B3B3" stroke-width="1.1"/>
<text transform="translate(32.05,674.90) scale(1,1.09)" font-size="12.1" fill="#4D4D4D" text-anchor="end">0</text>
<line x1="35.80" y1="623.40" x2="39.45" y2="623.40" stroke="#B3B3B3" stroke-width="1.1"/>
<text transform="translate(32.05,628.00) scale(1,1.09)" font-size="12.1" fill="#4D4D4D" text-anchor="end">1</text>
<line x1="35.80" y1="576.50" x2="39.45" y2="576.50" stroke="#B3B3B3" stroke-width="1.1"/>
<text transform="translate(32.05,581.10) scale(1,1.09)" font-size="12.1" fill="#4D4D4D" text-anchor="end">2</text>
<line x1="63.50" y1="674.99" x2="63.50" y2="678.64" stroke="#B3B3B3" stroke-width="1.1"/>
<text transform="translate(63.60,691.20) scale(1,1.09)" font-size="12.1" fill="#4D4D4D" text-anchor="middle">0</text>
<line x1="159.72" y1="674.99" x2="159.72" y2="678.64" stroke="#B3B3B3" stroke-width="1.1"/>
<text transform="translate(159.82,691.20) scale(1,1.09)" font-size="12.1" fill="#4D4D4D" text-anchor="middle">100</text>
<line x1="255.94" y1="674.99" x2="255.94" y2="678.64" stroke="#B3B3B3" stroke-width="1.1"/>
<text transform="translate(256.04,691.20) scale(1,1.09)" font-size="12.1" fill="#4D4D4D" text-anchor="middle">200</text>
<line x1="352.16" y1="674.99" x2="352.16" y2="678.64" stroke="#B3B3B3" stroke-width="1.1"/>
<text transform="translate(352.26,691.20) scale(1,1.09)" font-size="12.1" fill="#4D4D4D" text-anchor="middle">300</text>
<line x1="448.38" y1="674.99" x2="448.38" y2="678.64" stroke="#B3B3B3" stroke-width="1.1"/>
<text transform="translate(448.48,691.20) scale(1,1.09)" font-size="12.1" fill="#4D4D4D" text-anchor="middle">400</text>
<line x1="544.60" y1="674.99" x2="544.60" y2="678.64" stroke="#B3B3B3" stroke-width="1.1"/>
<text transform="translate(544.70,691.20) scale(1,1.09)" font-size="12.1" fill="#4D4D4D" text-anchor="middle">500</text>
<text x="304.05" y="708.9" font-size="14.67" fill="#000" text-anchor="middle">Time in days</text>
<text transform="translate(17.8,623.3) rotate(-90) scale(1,1.08)" font-size="14.26" fill="#000" text-anchor="middle">n.censor</text>
</svg></body></html>
